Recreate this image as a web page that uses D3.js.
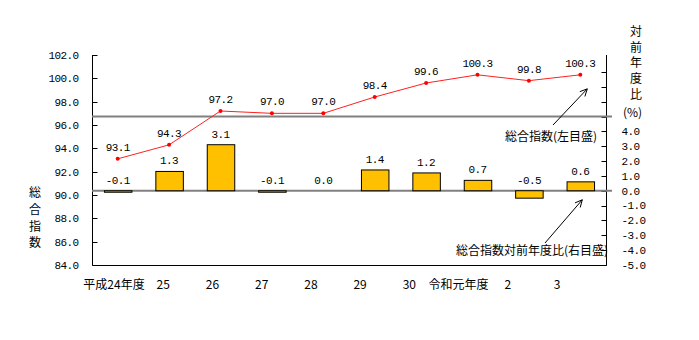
<!DOCTYPE html>
<html><head><meta charset="utf-8">
<script src="https://cdn.jsdelivr.net/npm/d3@7"></script>
<style>
body{margin:0;background:#fff;}
svg{display:block;}
.num{font-family:"Liberation Mono","DejaVu Sans Mono",monospace;font-size:11px;letter-spacing:-0.6px;fill:#000;}
.jp{font-family:"Noto Sans CJK JP",sans-serif;font-size:12px;fill:#000;}
</style></head>
<body>
<script>
const categories = ["平成24年度","25","26","27","28","29","30","令和元年度","2","3"];
const indexValues = [93.1, 94.3, 97.2, 97.0, 97.0, 98.4, 99.6, 100.3, 99.8, 100.3];
const changeValues = [-0.1, 1.3, 3.1, -0.1, 0.0, 1.4, 1.2, 0.7, -0.5, 0.6];
const leftTicks = [84,86,88,90,92,94,96,98,100,102];
const rightTicks = [-5,-4,-3,-2,-1,0,1,2,3,4];
const leftTitle = ["総","合","指","数"];
const rightTitle = ["対","前","年","度","比"];

const W=699,H=340;
const svg=d3.select("body").append("svg").attr("width",W).attr("height",H);

const L=92,R=606,T=55,B=265;
const x=d3.scaleBand().domain(categories).range([L,R]).paddingInner(0.465).paddingOuter(0.2325);
const xLab=d3.scalePoint().domain(categories).range([114,557]);
const yL=d3.scaleLinear().domain([84,102]).range([B,T]);
const yR=d3.scaleLinear().domain([-5,5]).range([B,116.5]);

// frame
svg.append("path").attr("d",`M${L+0.5},${T}V${B+0.5}H${R+0.5}V${T}`).attr("fill","none").attr("stroke","#000").attr("stroke-width",1);

// left axis ticks
const gL=svg.append("g").attr("transform",`translate(${L+0.5},0)`);
gL.selectAll("line").data(leftTicks).join("line")
  .attr("x1",0).attr("x2",5).attr("y1",d=>Math.round(yL(d))+0.5).attr("y2",d=>Math.round(yL(d))+0.5).attr("stroke","#000");
gL.selectAll("text").data(leftTicks).join("text").attr("class","num")
  .attr("x",-14).attr("y",d=>yL(d)).attr("dy","0.35em").attr("text-anchor","end").text(d=>d.toFixed(1));

// right axis ticks
const rightTickAll=d3.range(-5,9);
const gR=svg.append("g").attr("transform",`translate(${R+0.5},0)`);
gR.selectAll("line").data(rightTickAll).join("line")
  .attr("x1",0).attr("x2",-5).attr("y1",d=>Math.round(yR(d))+0.5).attr("y2",d=>Math.round(yR(d))+0.5).attr("stroke","#000");
gR.selectAll("text").data(rightTicks).join("text").attr("class","num")
  .attr("x",15).attr("y",d=>yR(d)).attr("dy","0.35em").attr("text-anchor","start").text(d=>d.toFixed(1));
gR.append("text").attr("class","jp").attr("x",26).attr("y",yR(5)-4).attr("dy","0.35em").attr("text-anchor","middle").text("(%)");

// gray reference lines
svg.selectAll("line.ref").data([5,0]).join("line").attr("class","ref")
  .attr("x1",L).attr("x2",R+6).attr("y1",d=>yR(d)).attr("y2",d=>yR(d))
  .attr("stroke","#808080").attr("stroke-width",2);

// bars
svg.selectAll("rect.bar").data(changeValues).join("rect").attr("class","bar")
  .attr("x",(d,i)=>x(categories[i])+0.5).attr("width",x.bandwidth())
  .attr("y",d=>Math.min(yR(d),yR(0))).attr("height",d=>Math.abs(yR(d)-yR(0)))
  .attr("fill","#FFC000").attr("stroke","#000").attr("stroke-width",1)
  .attr("display",d=>d===0?"none":null);
svg.selectAll("text.blab").data(changeValues).join("text").attr("class","num blab")
  .attr("x",(d,i)=>x(categories[i])+x.bandwidth()/2).attr("y",d=>Math.min(yR(d),yR(0))-11)
  .attr("dy","0.35em").attr("text-anchor","middle").text(d=>d.toFixed(1));

// line
const cx=(i)=>x(categories[i])+x.bandwidth()/2;
svg.append("path").datum(indexValues)
  .attr("d",d3.line().x((d,i)=>cx(i)).y(d=>yL(d)))
  .attr("fill","none").attr("stroke","#ff2020").attr("stroke-width",1);
svg.selectAll("circle.pt").data(indexValues).join("circle").attr("class","pt")
  .attr("cx",(d,i)=>cx(i)).attr("cy",d=>yL(d)).attr("r",2).attr("fill","#ff0000");
svg.selectAll("text.llab").data(indexValues).join("text").attr("class","num llab")
  .attr("x",(d,i)=>cx(i)).attr("y",d=>yL(d)-12)
  .attr("dy","0.35em").attr("text-anchor","middle").text(d=>d.toFixed(1));

// x labels
svg.selectAll("text.xl").data(categories).join("text").attr("class","jp xl")
  .attr("x",d=>xLab(d)).attr("y",285).attr("dy","0.35em").attr("text-anchor","middle").text(d=>d);

// titles
svg.selectAll("text.lt").data(leftTitle).join("text").attr("class","jp lt")
  .attr("x",35).attr("y",(d,i)=>193+i*16.7).attr("dy","0.35em").attr("text-anchor","middle").text(d=>d);
svg.selectAll("text.rt").data(rightTitle).join("text").attr("class","jp rt")
  .attr("x",636).attr("y",(d,i)=>32+i*15.6).attr("dy","0.35em").attr("text-anchor","middle").text(d=>d);

// annotations with arrows
function arrow(x1,y1,x2,y2){
  const g=svg.append("g").attr("stroke","#000").attr("stroke-width",1).attr("fill","none");
  g.append("line").attr("x1",x1).attr("y1",y1).attr("x2",x2).attr("y2",y2);
  const a=Math.atan2(y2-y1,x2-x1), len=8, sp=0.45;
  g.append("path").attr("d",`M${x2-len*Math.cos(a-sp)},${y2-len*Math.sin(a-sp)}L${x2},${y2}L${x2-len*Math.cos(a+sp)},${y2-len*Math.sin(a+sp)}`);
}
const last=categories.length-1;
arrow(553,125,cx(last)+7,yL(indexValues[last])+14);
svg.append("text").attr("class","jp").attr("x",551).attr("y",137).attr("dy","0.35em").attr("text-anchor","middle").text("総合指数(左目盛)");
arrow(545,243,cx(last)+2,yR(0)+9);
svg.append("text").attr("class","jp").attr("x",532).attr("y",251).attr("dy","0.35em").attr("text-anchor","middle").text("総合指数対前年度比(右目盛)");
</script>
</body></html>
